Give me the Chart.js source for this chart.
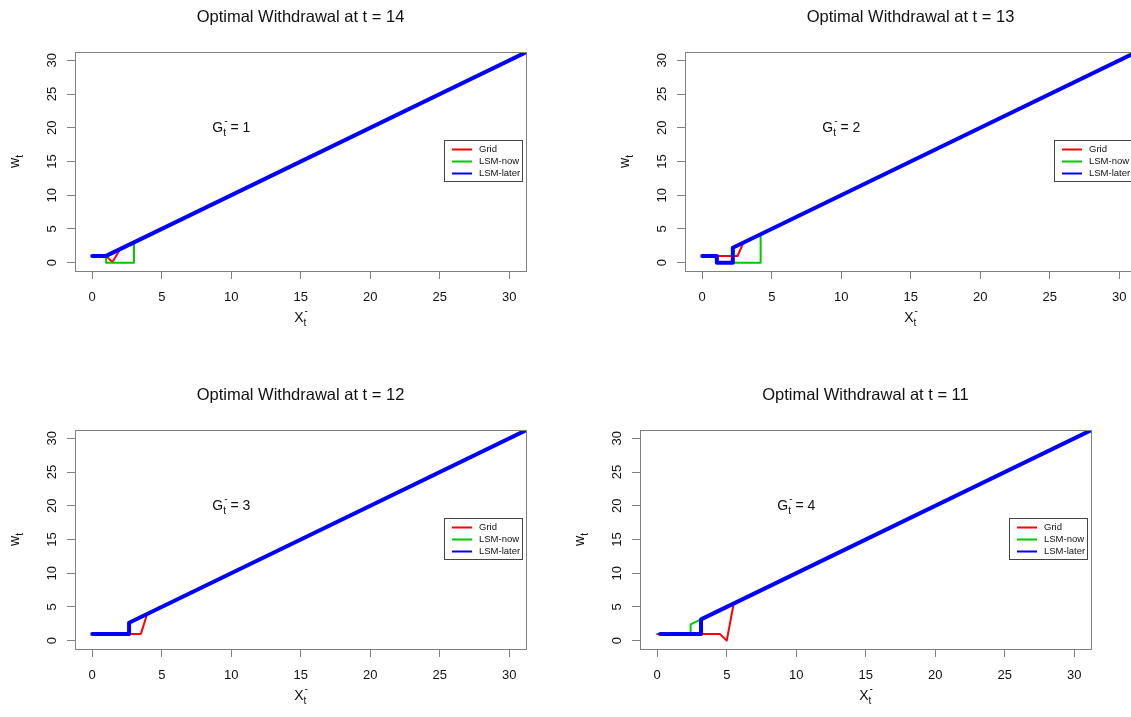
<!DOCTYPE html>
<html>
<head>
<meta charset="utf-8">
<script src="https://cdn.jsdelivr.net/npm/chart.js@4.4.1/dist/chart.umd.min.js"></script>
<style>
  body { margin: 0; background: #fff; width: 1131px; height: 717px; overflow: hidden; position: relative; }
  canvas { position: absolute; }
</style>
</head>
<body>
<canvas id="c14" width="565" height="358" style="left:0px;top:0px"></canvas>
<canvas id="c13" width="565" height="358" style="left:610px;top:0px"></canvas>
<canvas id="c12" width="565" height="358" style="left:0px;top:378px"></canvas>
<canvas id="c11" width="565" height="358" style="left:565px;top:378px"></canvas>
<script>
const xTicks = [0, 5, 10, 15, 20, 25, 30];
const yTicks = [0, 5, 10, 15, 20, 25, 30];
const seriesNames = ["Grid", "LSM-now", "LSM-later"];
const seriesColors = ["#ff0000", "#00c800", "#0000ff"];

// points are [X_t, w_t]
const grid14 = [[0, 1], [1, 1], [1.45, 0.05], [2, 2], [31.2, 31.2]];
const now14 = [[0, 1], [1, 1], [1, 0], [3, 0], [3, 3], [31.2, 31.2]];
const later14 = [[0, 1], [1, 1], [31.2, 31.2]];

const grid13 = [[0, 1], [2.55, 1], [2.95, 2.95], [31.2, 31.2]];
const now13 = [[0, 1], [1, 1], [1, 0], [4.2, 0], [4.2, 4.2], [31.2, 31.2]];
const later13 = [[0, 1], [1.05, 1], [1.05, 0], [2.2, 0], [2.2, 2.2], [31.2, 31.2]];

const grid12 = [[0, 1], [3.5, 1], [3.95, 3.95], [31.2, 31.2]];
const now12 = [[0, 1], [2.7, 1], [2.7, 2.7], [31.2, 31.2]];
const later12 = [[0, 1], [2.65, 1], [2.65, 2.65], [31.2, 31.2]];

const grid11 = [[0, 1], [4.5, 1], [5.0, 0], [5.5, 5.5], [31.2, 31.2]];
const now11 = [[0.2, 1], [2.4, 1], [2.4, 2.4], [31.2, 31.2]];
const later11 = [[0.2, 1], [3.15, 1], [3.15, 3.15], [31.2, 31.2]];

const FONT = "'Liberation Sans', Arial, Helvetica, sans-serif";

// draws text with a stacked subscript/superscript after the main part
function richText(ctx, main, sub, sup, rest, cx, cy, size) {
  ctx.font = size + "px " + FONT;
  const wMain = ctx.measureText(main).width;
  ctx.font = (size * 0.72) + "px " + FONT;
  const wSub = Math.max(ctx.measureText(sub).width, ctx.measureText(sup).width);
  ctx.font = size + "px " + FONT;
  const wRest = ctx.measureText(rest).width;
  let x = cx - (wMain + wSub + wRest) / 2;
  ctx.textAlign = "left";
  ctx.textBaseline = "middle";
  ctx.fillText(main, x, cy);
  x += wMain;
  ctx.font = (size * 0.72) + "px " + FONT;
  if (sub) ctx.fillText(sub, x, cy + size * 0.38);
  if (sup) ctx.fillText(sup, x + 1, cy - size * 0.45);
  x += wSub;
  ctx.font = size + "px " + FONT;
  if (rest) ctx.fillText(rest, x, cy);
}

const decor = {
  id: "decor",
  afterDraw(chart, args, opts) {
    const ctx = chart.ctx;
    const a = chart.chartArea;
    const xs = chart.scales.x, ys = chart.scales.y;
    ctx.save();
    // box
    ctx.strokeStyle = "#808080";
    ctx.lineWidth = 1;
    ctx.strokeRect(Math.round(a.left) + 0.5, Math.round(a.top) + 0.5, Math.round(a.right - a.left), Math.round(a.bottom - a.top));
    ctx.fillStyle = "#111";
    // title
    ctx.font = "16.5px " + FONT;
    ctx.textAlign = "center";
    ctx.textBaseline = "middle";
    ctx.fillText("Optimal Withdrawal at t = " + opts.t, (a.left + a.right) / 2, 17);
    // axis labels
    richText(ctx, "X", "t", "-", "", (a.left + a.right) / 2, 318, 14);
    ctx.save();
    ctx.translate(15, (a.top + a.bottom) / 2);
    ctx.rotate(-Math.PI / 2);
    richText(ctx, "w", "t", "", "", 0, 0, 14);
    ctx.restore();
    // G annotation
    richText(ctx, "G", "t", "-", " = " + opts.g, xs.getPixelForValue(10), ys.getPixelForValue(20), 14);
    // legend
    const lx = a.left + 369, ly = a.top + 88;
    ctx.strokeStyle = "#444";
    ctx.strokeRect(lx + 0.5, ly + 0.5, 78, 41);
    ctx.font = "9.5px " + FONT;
    ctx.textAlign = "left";
    ctx.textBaseline = "middle";
    seriesNames.forEach((name, i) => {
      const yy = ly + 9.5 + i * 12;
      ctx.strokeStyle = seriesColors[i];
      ctx.lineWidth = 2;
      ctx.beginPath();
      ctx.moveTo(lx + 8, yy);
      ctx.lineTo(lx + 28, yy);
      ctx.stroke();
      ctx.fillStyle = "#111";
      ctx.fillText(name, lx + 35, yy);
    });
    ctx.restore();
  }
};

function makeChart(id, t, g, series) {
  new Chart(document.getElementById(id), {
    type: "scatter",
    data: {
      datasets: series.map((pts, i) => ({
        label: seriesNames[i],
        data: pts.map(p => ({ x: p[0], y: p[1] })),
        showLine: true,
        order: 2 - i,
        borderColor: seriesColors[i],
        borderWidth: i === 2 ? 4 : 2,
        pointRadius: 0,
        borderCapStyle: "round",
        borderJoinStyle: "round"
      }))
    },
    options: {
      responsive: false,
      animation: false,
      devicePixelRatio: 1,
      layout: { padding: { top: 52, left: 0, right: 39, bottom: 47 } },
      plugins: { legend: { display: false }, tooltip: { enabled: false }, decor: { t: t, g: g } },
      scales: {
        x: {
          type: "linear", min: -1.24, max: 31.2,
          afterBuildTicks: s => { s.ticks = xTicks.map(v => ({ value: v })); },
          afterFit: s => { s.height = 40; },
          grid: { drawOnChartArea: false, drawTicks: true, tickLength: 8, color: "#808080" },
          border: { display: false },
          ticks: { padding: 11, color: "#111", maxRotation: 0, autoSkip: false, font: { family: FONT, size: 13 } }
        },
        y: {
          type: "linear", min: -1.24, max: 31.24,
          afterBuildTicks: s => { s.ticks = yTicks.map(v => ({ value: v })); },
          afterFit: s => { s.width = 75; },
          grid: { drawOnChartArea: false, drawTicks: true, tickLength: 8, color: "#808080" },
          border: { display: false },
          ticks: { padding: 7, minRotation: 90, maxRotation: 90, crossAlign: "center", color: "#111", autoSkip: false, font: { family: FONT, size: 13 } }
        }
      }
    },
    plugins: [decor]
  });
}

makeChart("c14", 14, 1, [grid14, now14, later14]);
makeChart("c13", 13, 2, [grid13, now13, later13]);
makeChart("c12", 12, 3, [grid12, now12, later12]);
makeChart("c11", 11, 4, [grid11, now11, later11]);
</script>
</body>
</html>
